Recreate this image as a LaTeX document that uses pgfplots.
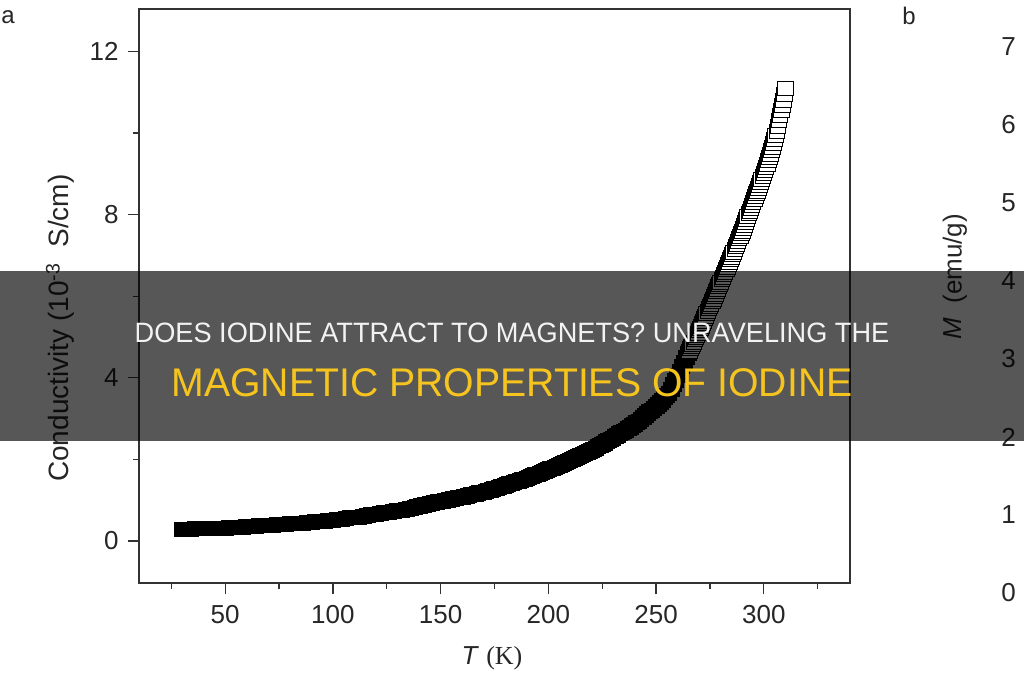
\documentclass[border=0pt]{standalone}
\usepackage{fontspec}
\setmainfont{Liberation Sans}
\newfontfamily\seriffont{Liberation Serif}
\usepackage{pgfplots}
\usepackage{pgfplotstable}
\pgfplotsset{compat=1.18}
\definecolor{yel}{RGB}{246,196,30}
\definecolor{axc}{RGB}{50,50,50}

\pgfplotstableread{
T s
30 0.29
32 0.29
34 0.29
36 0.30
38 0.30
40 0.30
42 0.31
44 0.31
46 0.31
48 0.32
50 0.32
52 0.33
54 0.33
56 0.34
58 0.34
60 0.35
62 0.36
64 0.36
66 0.37
68 0.37
70 0.38
72 0.39
74 0.40
76 0.40
78 0.41
80 0.42
82 0.43
84 0.44
86 0.44
88 0.45
90 0.46
92 0.47
94 0.48
96 0.49
98 0.50
100 0.51
102 0.52
104 0.54
106 0.55
108 0.57
110 0.58
112 0.59
114 0.61
116 0.62
118 0.64
120 0.65
122 0.67
124 0.69
126 0.70
128 0.72
130 0.74
132 0.76
134 0.78
136 0.81
138 0.83
139 0.84
140 0.85
141 0.86
142 0.87
143 0.885
144 0.90
145 0.91
146 0.92
147 0.935
148 0.95
149 0.96
150 0.97
151 0.98
152 0.99
153 1.00
154 1.01
155 1.025
156 1.04
157 1.05
158 1.06
159 1.07
160 1.08
161 1.09
162 1.10
163 1.115
164 1.13
165 1.14
166 1.15
167 1.165
168 1.18
169 1.19
170 1.20
171 1.215
172 1.23
173 1.245
174 1.26
175 1.28
176 1.30
177 1.315
178 1.33
179 1.345
180 1.36
181 1.38
182 1.40
183 1.415
184 1.43
185 1.45
186 1.47
187 1.485
188 1.50
189 1.52
190 1.54
191 1.56
192 1.58
193 1.60
194 1.62
195 1.64
196 1.66
197 1.685
198 1.71
199 1.73
200 1.75
201 1.77
202 1.79
203 1.815
204 1.84
205 1.86
206 1.88
207 1.905
208 1.93
209 1.95
210 1.97
211 1.995
212 2.02
213 2.045
214 2.07
215 2.095
216 2.12
217 2.145
218 2.17
219 2.195
220 2.22
221 2.25
222 2.28
223 2.31
224 2.34
225 2.37
226 2.40
227 2.43
228 2.46
229 2.49
230 2.52
231 2.555
232 2.59
233 2.625
234 2.66
235 2.69
236 2.72
237 2.755
238 2.79
239 2.825
240 2.86
241 2.90
242 2.94
243 2.985
244 3.03
245 3.075
246 3.12
247 3.165
248 3.21
249 3.255
250 3.30
251 3.35
252 3.40
253 3.455
254 3.51
255 3.565
256 3.62
257 3.72
258 3.83
259 3.94
260 4.05
261 4.16
262 4.27
263 4.38
264 4.49
265 4.60
}\lowdata

\pgfplotstableread{
T s
265.5 4.655
266 4.71
266.5 4.765
267 4.82
267.5 4.875
268 4.93
268.5 4.985
269 5.04
269.5 5.095
270 5.15
270.5 5.21
271 5.27
271.5 5.33
272 5.39
272.5 5.45
273 5.51
273.5 5.57
274 5.63
274.5 5.69
275 5.75
275.5 5.81
276 5.87
276.5 5.93
277 5.99
277.5 6.05
278 6.11
278.5 6.17
279 6.23
279.5 6.29
280 6.35
280.5 6.41
281 6.47
281.5 6.53
282 6.59
282.5 6.65
283 6.71
283.5 6.77
284 6.83
284.5 6.89
285 6.95
285.5 7.015
286 7.08
286.5 7.145
287 7.21
287.5 7.275
288 7.34
288.5 7.405
289 7.47
289.5 7.535
290 7.60
290.5 7.67
291 7.74
291.5 7.81
292 7.88
292.5 7.95
293 8.02
293.5 8.09
294 8.16
294.5 8.23
295 8.30
295.5 8.37
296 8.44
296.5 8.51
297 8.58
297.5 8.65
298 8.72
298.5 8.79
299 8.86
299.5 8.93
300 9.00
300.5 9.08
301 9.16
301.5 9.24
302 9.32
302.5 9.40
303 9.48
303.5 9.565
304 9.65
304.5 9.75
305 9.85
305.5 9.95
306 10.05
306.5 10.17
307 10.30
307.5 10.42
308 10.55
308.5 10.67
309 10.80
309.5 10.95
310 11.10
}\highdata

\begin{document}
\begin{tikzpicture}[x=1pt,y=1pt]
\useasboundingbox (0,0) rectangle (1024,680);
\clip (0,0) rectangle (1024,680);
\fill[white] (0,0) rectangle (1024,680);

\begin{axis}[
  at={(139pt,97pt)}, anchor=south west,
  scale only axis, width=711pt, height=574pt,
  xmin=10, xmax=340, ymin=-1.03, ymax=13.04,
  axis line style={line width=1.3pt, axc},
  xtick={50,100,...,300}, minor xtick={25,75,...,325},
  ytick={0,4,8,12}, minor ytick={2,6,10},
  tick pos=left, tick align=outside,
  major tick length=11pt, minor tick length=6pt,
  every tick/.style={line width=1.3pt, axc},
  /pgf/number format/assume math mode=true,
  ticklabel style={font=\fontsize{26}{30}\selectfont, color=black!85},
  xticklabel style={yshift=-8pt},
  yticklabel style={xshift=-6pt},
  xlabel={\fontsize{26}{30}\selectfont\textit{T}~{\seriffont(K)}},
  xlabel style={at={(axis description cs:0.4965,-0.1307)}, anchor=center, color=black!85},
  ylabel={\fontsize{28}{32}\selectfont Conductivity (10\textsuperscript{-3}~~S/cm)},
  ylabel style={at={(axis description cs:-0.111,0.444)}, anchor=center, rotate=0, color=black!85},
]
\addplot[only marks, mark=square*, mark size=7pt,
  mark options={xscale=1.12, fill=black, draw=black, line width=0.8pt}]
  table[x=T, y=s] {\lowdata};
\addplot[only marks, mark=square*, mark size=7pt,
  mark options={xscale=1.12, fill=white, draw=black, line width=0.8pt}]
  table[x=T, y=s] {\highdata};
\end{axis}

\begin{axis}[
  at={(1016pt,87pt)}, anchor=south west,
  scale only axis, width=100pt, height=546pt,
  xmin=0, xmax=1, ymin=0, ymax=7,
  axis x line=none, axis y line=left,
  axis line style={draw=none},
  ytick={0,1,...,7}, major tick length=0pt,
  /pgf/number format/assume math mode=true,
  yticklabel style={anchor=east, inner sep=0pt, font=\fontsize{26}{30}\selectfont, color=black!85},
  ylabel={\fontsize{26}{30}\selectfont\textit{M}~~(emu/g)},
  ylabel style={at={(axis description cs:-0.61,0.579)}, anchor=center, rotate=0, color=black!85},
]
\addplot[draw=none, mark=none] coordinates {(0.5,3)};
\end{axis}

\node[font=\fontsize{24}{28}\selectfont, color=black!85] at (8,663) {a};
\node[font=\fontsize{24}{28}\selectfont, color=black!85] at (909,664) {b};

\fill[black, opacity=0.66] (0,239) rectangle (1024,409);
\node[inner sep=0pt, text=white!95!black, font=\fontsize{28}{32}\selectfont] at (512,347)
  {\scalebox{0.97}[1]{DOES IODINE ATTRACT TO MAGNETS? UNRAVELING THE}};
\node[inner sep=0pt, text=yel, font=\fontsize{40}{44}\selectfont] at (512,297)
  {\scalebox{0.98}[1]{MAGNETIC PROPERTIES OF IODINE}};
\end{tikzpicture}
\end{document}
